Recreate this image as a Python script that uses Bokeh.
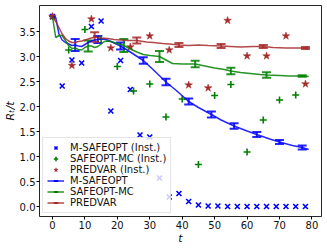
import numpy as np
from bokeh.plotting import figure
from bokeh.models import Range1d, Whisker, TeeHead, ColumnDataSource, Legend, LegendItem, FixedTicker
from bokeh.embed import file_html
from bokeh.resources import INLINE

# ---------------- data ----------------
# instantaneous regret samples
t_msafe_inst = [0, 3, 6, 9, 12, 15, 18, 21, 24, 27, 30, 33, 36, 39, 42, 45, 48, 51, 54, 57, 60, 63, 66, 69, 72, 75, 78]
msafe_inst = [3.80, 2.41, 2.93, 2.87, 3.60, 3.71, 1.91, 2.92, 2.34, 1.43, 1.39, 0.57, 0.19, 0.26, 0.10, 0.03,
              0.01, 0.01, 0.0, 0.0, 0.0, 0.0, 0.0, 0.0, 0.0, 0.0, 0.0]
t_smc_inst = [0, 5, 10, 15, 20, 25, 30, 35, 40, 45, 50, 55, 60, 65, 70, 75]
smc_inst = [3.80, 3.13, 3.54, 3.35, 2.80, 2.31, 2.45, 1.79, 2.15, 0.84, 2.22, 2.44, 1.09, 1.73, 2.13, 2.23]
t_pv_inst = [0, 6, 12, 18, 24, 30, 36, 42, 48, 54, 60, 66, 72, 78]
pv_inst = [3.80, 2.82, 3.75, 3.17, 3.19, 3.41, 3.13, 2.43, 2.37, 3.72, 3.01, 3.01, 3.41, 2.45]

# average regret curves R_t / t
t_msafe = [0, 1, 2, 3, 4, 5, 6, 7, 8, 9, 10, 11, 12, 13, 14, 15, 16, 17, 18, 19, 20, 21, 24, 28, 31, 35, 38,
           42, 45, 49, 52, 56, 60, 63, 67, 70, 74, 77, 79]
msafe = [3.80, 3.78, 3.45, 3.33, 3.28, 3.25, 3.22, 3.23, 3.21, 3.20, 3.24, 3.28, 3.31, 3.33, 3.34, 3.35, 3.35,
         3.33, 3.30, 3.27, 3.24, 3.21, 3.09, 2.92, 2.74, 2.49, 2.33, 2.10, 1.98, 1.84, 1.73, 1.61, 1.51, 1.44,
         1.35, 1.29, 1.22, 1.18, 1.14]
t_smc = [0, 1, 2, 3, 4, 5, 6, 7, 8, 9, 10, 11, 12, 13, 14, 15, 16, 17, 18, 19, 20, 22, 24, 26, 28, 30, 33, 35,
         37, 40, 44, 47, 50, 53, 55, 58, 61, 64, 66, 70, 73, 77, 79]
smc = [3.80, 3.38, 3.42, 3.42, 3.32, 3.22, 3.16, 3.17, 3.14, 3.13, 3.18, 3.21, 3.21, 3.18, 3.20, 3.25, 3.30,
       3.31, 3.30, 3.28, 3.26, 3.22, 3.15, 3.09, 3.04, 3.02, 3.00, 2.93, 2.86, 2.85, 2.85, 2.81, 2.77, 2.74,
       2.71, 2.68, 2.66, 2.64, 2.63, 2.62, 2.61, 2.61, 2.60]
t_pv = [0, 1, 2, 3, 4, 5, 6, 7, 8, 9, 10, 11, 12, 13, 14, 15, 17, 19, 21, 23, 26, 29, 31, 34, 36, 39, 42, 45,
        48, 52, 55, 58, 62, 65, 68, 72, 75, 78, 79]
pv = [3.80, 3.70, 3.58, 3.45, 3.36, 3.31, 3.28, 3.28, 3.30, 3.31, 3.33, 3.35, 3.37, 3.39, 3.38, 3.37, 3.36,
      3.34, 3.33, 3.32, 3.32, 3.29, 3.28, 3.26, 3.25, 3.23, 3.22, 3.23, 3.22, 3.21, 3.20, 3.19, 3.20, 3.20,
      3.18, 3.17, 3.17, 3.17, 3.17]

# error bars
err_t_msafe = [7, 14, 21, 28, 35, 42, 49, 56, 63, 70, 77]
err_mean_msafe = [3.23, 3.34, 3.21, 2.92, 2.49, 2.10, 1.84, 1.61, 1.44, 1.29, 1.18]
err_sd_msafe = [0.12, 0.07, 0.07, 0.063, 0.063, 0.06, 0.06, 0.055, 0.05, 0.04, 0.04]
err_t_smc = [11, 22, 33, 44, 55, 66, 77]
err_mean_smc = [3.21, 3.22, 3.00, 2.85, 2.71, 2.63, 2.61]
err_sd_smc = [0.11, 0.13, 0.11, 0.067, 0.063, 0.053, 0.015]
err_t_pv = [13, 26, 39, 52, 65, 78]
err_mean_pv = [3.39, 3.32, 3.23, 3.21, 3.20, 3.17]
err_sd_pv = [0.097, 0.06, 0.04, 0.04, 0.03, 0.02]

x_ticks = [0, 10, 20, 30, 40, 50, 60, 70, 80]
y_ticks = [0.0, 0.5, 1.0, 1.5, 2.0, 2.5, 3.0, 3.5]
y_tick_labels = ["0.0", "0.5", "1.0", "1.5", "2.0", "2.5", "3.0", "3.5"]

names = ["M-SAFEOPT", "SAFEOPT-MC", "PREDVAR"]
colors = ["#0000ff", "#008000", "#a52a2a"]

# ---------------- figure ----------------
p = figure(width=325, height=249, x_range=Range1d(-4.0, 82.95), y_range=Range1d(-0.2, 4.02),
           output_backend="svg", toolbar_location=None,
           min_border_left=38, min_border_right=4, min_border_top=5, min_border_bottom=33)
p.xgrid.visible = False
p.ygrid.visible = False
p.outline_line_color = "black"
p.outline_line_width = 1
p.outline_line_alpha = 0.85
p.background_fill_color = "white"
p.border_fill_color = "white"

for ax in (p.xaxis[0], p.yaxis[0]):
    ax.axis_line_color = None
    ax.major_tick_line_color = "black"
    ax.major_tick_line_width = 1
    ax.major_tick_in = 0
    ax.major_tick_out = 3
    ax.minor_tick_line_color = None
    ax.major_label_text_font = "DejaVu Sans"
    ax.major_label_text_font_size = "10px"
    ax.major_label_text_color = "#111111"
    ax.axis_label_text_font = "DejaVu Sans"
    ax.axis_label_text_font_size = "11px"
    ax.axis_label_text_font_style = "italic"
    ax.axis_label_text_color = "#111111"

p.xaxis.ticker = FixedTicker(ticks=x_ticks)
p.yaxis.ticker = FixedTicker(ticks=y_ticks)
p.yaxis.major_label_overrides = {v: s for v, s in zip(y_ticks, y_tick_labels)}
p.xaxis.major_label_standoff = 1
p.yaxis.major_label_standoff = 1
p.xaxis.axis_label = "t"
p.yaxis.axis_label = "Rₜ/t"
p.xaxis.axis_label_standoff = 0
p.yaxis.axis_label_standoff = 0

# instantaneous markers
r_i1 = p.scatter(t_msafe_inst, msafe_inst, marker="x", size=7, line_color=colors[0], line_width=1.6)
r_i2 = p.scatter(t_smc_inst, smc_inst, marker="cross", size=7, line_color=colors[1], line_width=1.6)
r_i3 = p.scatter(t_pv_inst, pv_inst, marker="star", size=8, fill_color=colors[2], line_color=colors[2], line_width=0.5)

line_data = [(t_msafe, msafe), (t_smc, smc), (t_pv, pv)]
err_data = [(err_t_msafe, err_mean_msafe, err_sd_msafe),
            (err_t_smc, err_mean_smc, err_sd_smc),
            (err_t_pv, err_mean_pv, err_sd_pv)]

line_items = []
for (tx, ty), (et, em, es), c, name in zip(line_data, err_data, colors, names):
    lr = p.line(tx, ty, line_color=c, line_width=1.5, line_alpha=0.85)
    em_a = np.array(em)
    es_a = np.array(es)
    src = ColumnDataSource(dict(base=et, upper=em_a + es_a, lower=em_a - es_a))
    w = Whisker(base="base", upper="upper", lower="lower", source=src, dimension="height",
                line_color=c, line_width=2, line_alpha=0.85,
                upper_head=TeeHead(size=9, line_color=c, line_width=2, line_alpha=0.85),
                lower_head=TeeHead(size=9, line_color=c, line_width=2, line_alpha=0.85))
    p.add_layout(w)
    # legend-only vertical bar
    vr = p.scatter([float("nan")], [float("nan")], marker="dash", angle=np.pi / 2, size=10,
                   line_color=c, line_width=2)
    line_items.append(LegendItem(label=name, renderers=[lr, vr]))

legend = Legend(items=[
    LegendItem(label="M-SAFEOPT (Inst.)", renderers=[r_i1]),
    LegendItem(label="SAFEOPT-MC (Inst.)", renderers=[r_i2]),
    LegendItem(label="PREDVAR (Inst.)", renderers=[r_i3]),
] + line_items)
legend.location = "bottom_left"
legend.margin = 3
legend.padding = 4
legend.spacing = 0
legend.glyph_width = 17
legend.glyph_height = 11
legend.label_height = 11
legend.label_standoff = 6
legend.label_text_font = "DejaVu Sans"
legend.label_text_font_size = "10px"
legend.label_text_color = "#111111"
legend.border_line_color = "#cccccc"
legend.border_line_width = 1
legend.background_fill_alpha = 0.8
p.add_layout(legend)

open("out.html", "w").write(file_html(p, INLINE))
